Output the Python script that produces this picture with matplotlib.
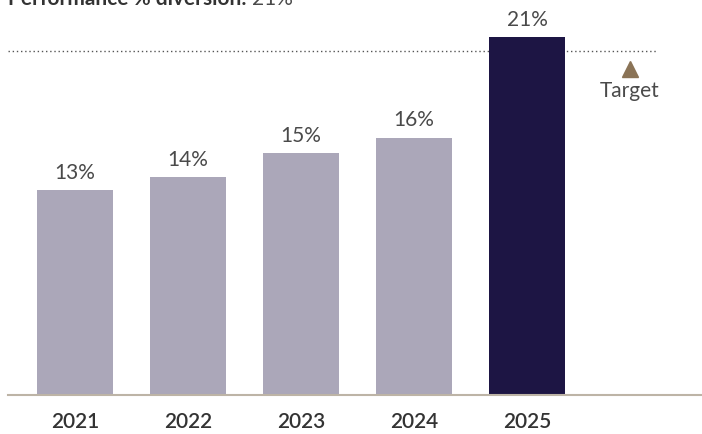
import matplotlib.pyplot as plt

plt.rcParams['font.family'] = ['Lato', 'DejaVu Sans']

years = ['2021', '2022', '2023', '2024', '2025']
bar_heights = [12.0, 12.8, 14.2, 15.1, 21.0]
value_labels = ['13%', '14%', '15%', '16%', '21%']
target = 20.2
target_pos = 4.91

grey = '#aba7b9'
navy = '#1d1544'
colors = [grey, grey, grey, grey, navy]

W, H = 702, 434
fig = plt.figure(figsize=(W / 100, H / 100), dpi=100)
ax = fig.add_axes([8 / W, (H - 395) / H, 1 - 8 / W, 395 / H])

x = list(range(len(years)))
bars = ax.bar(x, bar_heights, width=0.67, color=colors, zorder=2)

for b, lab in zip(bars, value_labels):
    ax.annotate(lab, (b.get_x() + b.get_width() / 2, b.get_height()),
                xytext=(0, 8), textcoords='offset points', ha='center', va='baseline',
                fontsize=15, color='#4a4a4a')

# target line
ax.plot([-0.593, 5.16], [target, target], linestyle=(0, (1, 2)), color='#555555', lw=1, zorder=1)
ax.plot(target_pos, 19.1, marker='^', ms=11, color='#8a7356', clip_on=False)
ax.text(target_pos, 18.4, 'Target', ha='center', va='top', fontsize=15, color='#4a4a4a')

ax.set_xlim(-0.593, 5.549)
ax.set_ylim(0, 395 / 17.05)
ax.set_xticks(x)
ax.set_xticklabels(years, fontsize=15, color='#333333', fontweight='semibold')
ax.tick_params(axis='x', length=0, pad=12)
ax.set_yticks([])
for s in ['top', 'right', 'left']:
    ax.spines[s].set_visible(False)
ax.spines['bottom'].set_color('#bdb4a6')
ax.spines['bottom'].set_linewidth(1.5)
ax.spines['bottom'].set_zorder(3)

t1 = fig.text(8 / W, 1 - 5 / H, 'Performance % diversion: ', fontsize=15, fontweight='bold',
              color='#333333', va='baseline', ha='left')
fig.canvas.draw()
bb = t1.get_window_extent()
fig.text(bb.x1 / W, 1 - 5 / H, '21%', fontsize=15, color='#4a4a4a', va='baseline', ha='left')

fig.savefig('out.png', dpi=100)
